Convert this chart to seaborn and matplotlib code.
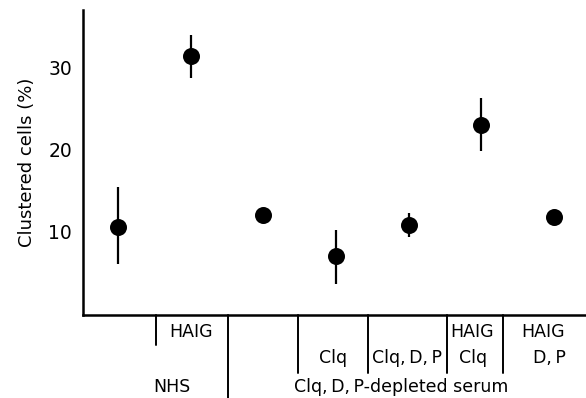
import matplotlib
matplotlib.use("Agg")
import matplotlib.pyplot as plt
import seaborn as sns
import pandas as pd
import numpy as np

# ---- data ----
categories = ["NHS", "NHS + HAIG", "Depleted", "Depleted + Clq",
              "Depleted + Clq,D,P", "Depleted + HAIG + Clq", "Depleted + HAIG + D,P"]
values = [10.5, 31.4, 12.0, 7.0, 10.8, 23.0, 11.7]
err_low = [6.0, 28.7, 12.0, 3.5, 9.3, 19.8, 11.7]
err_high = [15.4, 34.0, 12.0, 10.1, 12.2, 26.2, 11.7]
yticks = [10, 20, 30]

df = pd.DataFrame({"cat": categories, "pos": np.arange(len(categories)),
                   "val": values, "lo": err_low, "hi": err_high})

sns.set_theme(style="white")
plt.rcParams["font.family"] = ["DejaVu Sans"]
plt.rcParams["text.color"] = "black"
plt.rcParams["axes.labelcolor"] = "black"

fig = plt.figure(figsize=(5.86, 3.98), dpi=100)
ax = fig.add_axes([83/586, 1-315/398, 1-83/586, 305/398])

# error bars
ax.vlines(df["pos"], df["lo"], df["hi"], color="black", lw=1.6, zorder=2)
sns.scatterplot(data=df, x="pos", y="val", ax=ax, color="black", s=150,
                edgecolor="black", linewidth=0, zorder=3, legend=False)

ax.set_xlim(-0.482, 6.44)
ax.set_ylim(-0.25, 37)
ax.set_yticks(yticks)
ax.set_yticklabels([str(t) for t in yticks], fontsize=13.5)
ax.set_xticks([])
ax.set_xlabel("")
ax.set_ylabel("Clustered cells (%)", fontsize=13, labelpad=9, color="black")
ax.tick_params(axis="y", direction="in", length=8.5, width=1.4, pad=8,
               colors="black", labelcolor="black")
for s in ["top", "right"]:
    ax.spines[s].set_visible(False)
for s in ["left", "bottom"]:
    ax.spines[s].set_color("black")
    ax.spines[s].set_linewidth(1.8)

# condition table below the axis
trans = ax.get_xaxis_transform()
dividers = [(0.523, -0.098), (1.514, -0.28), (2.477, -0.19),
            (3.44, -0.19), (4.527, -0.19), (5.298, -0.19)]
for xd, yb in dividers:
    ax.plot([xd, xd], [0, yb], color="black", lw=1.4, transform=trans, clip_on=False)

labels = [
    (1.0, -0.056, "HAIG"),
    (4.87, -0.056, "HAIG"),
    (5.85, -0.056, "HAIG"),
    (2.96, -0.141, "Clq"),
    (3.97, -0.141, "Clq,\u2009D,\u2009P"),
    (4.88, -0.141, "Clq"),
    (5.93, -0.141, "D,\u2009P"),
    (0.74, -0.236, "NHS"),
    (3.9, -0.236, "Clq,\u2009D,\u2009P-depleted serum"),
]
for xl, yl, t in labels:
    ax.text(xl, yl, t, transform=trans, ha="center", va="center",
            fontsize=12.5, color="black", clip_on=False)

fig.savefig("out.png", dpi=100)
